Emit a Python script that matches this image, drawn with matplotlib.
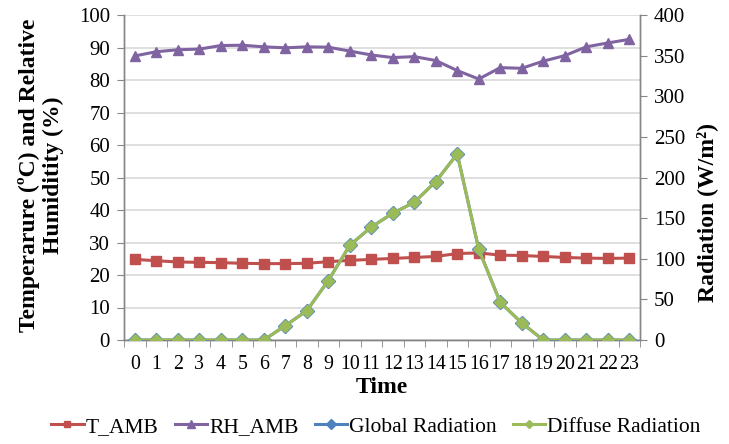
import matplotlib
matplotlib.use("Agg")
import matplotlib.pyplot as plt
from matplotlib.ticker import MultipleLocator, FixedLocator

hours = list(range(24))
t_amb = [24.8, 24.4, 24.0, 23.9, 23.8, 23.6, 23.5, 23.5, 23.6, 24.1, 24.5, 24.8,
         25.1, 25.4, 25.7, 26.6, 26.8, 26.1, 26.0, 25.7, 25.4, 25.2, 25.1, 25.2]
rh_amb = [87.4, 88.7, 89.3, 89.5, 90.6, 90.7, 90.2, 89.9, 90.2, 90.1, 88.9, 87.7,
          86.9, 87.2, 86.0, 82.9, 80.3, 83.8, 83.6, 85.8, 87.5, 90.2, 91.4, 92.5]
global_rad = [0, 0, 0, 0, 0, 0, 0, 17.6, 36, 73, 116.5, 139,
              156, 169.5, 195, 229, 111.6, 46.4, 21, 0, 0, 0, 0, 0]
diffuse_rad = [0, 0, 0, 0, 0, 0, 0, 17.6, 36, 73, 116.5, 139,
               156, 169.5, 195, 229, 111.6, 46.4, 21, 0, 0, 0, 0, 0]

RED = "#C0504D"
PURPLE = "#8064A2"
BLUE = "#4F81BD"
GREEN = "#9BBB59"
GRID = "#D9D9D9"
AXIS = "#868686"

plt.rcParams["font.family"] = ["Liberation Serif", "DejaVu Serif"]

W, H = 729, 444
fig = plt.figure(figsize=(W / 100, H / 100), dpi=100)
ax = fig.add_axes([124 / W, 1 - 340 / H, (640 - 124) / W, (340 - 15) / H])
ax2 = ax.twinx()

lw = 2.2
h1, = ax.plot(hours, t_amb, color=RED, lw=lw, marker="s", ms=6.5, zorder=3, label="T_AMB")
h2, = ax.plot(hours, rh_amb, color=PURPLE, lw=lw, marker="^", ms=7.5, zorder=3, label="RH_AMB")
h3, = ax2.plot(hours, global_rad, color=BLUE, lw=lw, marker="D", ms=7.0, zorder=3,
               label="Global Radiation")
h4, = ax2.plot(hours, diffuse_rad, color=GREEN, lw=lw, marker="D", ms=6.3, zorder=4,
               label="Diffuse Radiation")

ax.set_xlim(-0.5, 23.5)
ax.set_ylim(0, 100)
ax2.set_ylim(0, 400)
ax.yaxis.set_major_locator(MultipleLocator(10))
ax2.yaxis.set_major_locator(MultipleLocator(50))

ax.set_xticks(hours)
ax.set_xticklabels([str(h) for h in hours])
ax.xaxis.set_minor_locator(FixedLocator([h - 0.5 for h in hours] + [23.5]))
ax.tick_params(axis="x", which="major", length=0, pad=11, labelsize=14.3)
ax.tick_params(axis="x", which="minor", length=5, color=AXIS, direction="out")
ax.tick_params(axis="y", length=5, color=AXIS, labelsize=15, pad=5)
ax2.tick_params(axis="y", length=5, color=AXIS, labelsize=15, pad=5)

ax.grid(axis="y", color=GRID, lw=1.2, zorder=0)
ax.set_axisbelow(True)

for a in (ax, ax2):
    a.spines["top"].set_visible(False)
    for s in ("left", "right", "bottom"):
        a.spines[s].set_color(AXIS)
        a.spines[s].set_linewidth(1.0)

fig.text(382 / W, 1 - 387 / H, "Time", fontsize=17, fontweight="bold",
         ha="center", va="center")
fig.text(41 / W, 1 - 175 / H, "Temperarure (ºC) and Relative\nHumiditity (%)", fontsize=17,
         fontweight="bold", rotation=90, ha="center", va="center", multialignment="center",
         linespacing=1.15)
fig.text(707 / W, 1 - 213 / H, "Radiation (W/m²)", fontsize=17, fontweight="bold",
         rotation=90, ha="center", va="center")

fig.legend(handles=[h1, h2, h3, h4], loc="center", bbox_to_anchor=(376 / W, 1 - 427 / H),
           ncol=4, frameon=False, fontsize=15.5, handlelength=1.5, handletextpad=0.1,
           columnspacing=0.75, markerscale=0.7)

fig.savefig("out.png", dpi=100)
